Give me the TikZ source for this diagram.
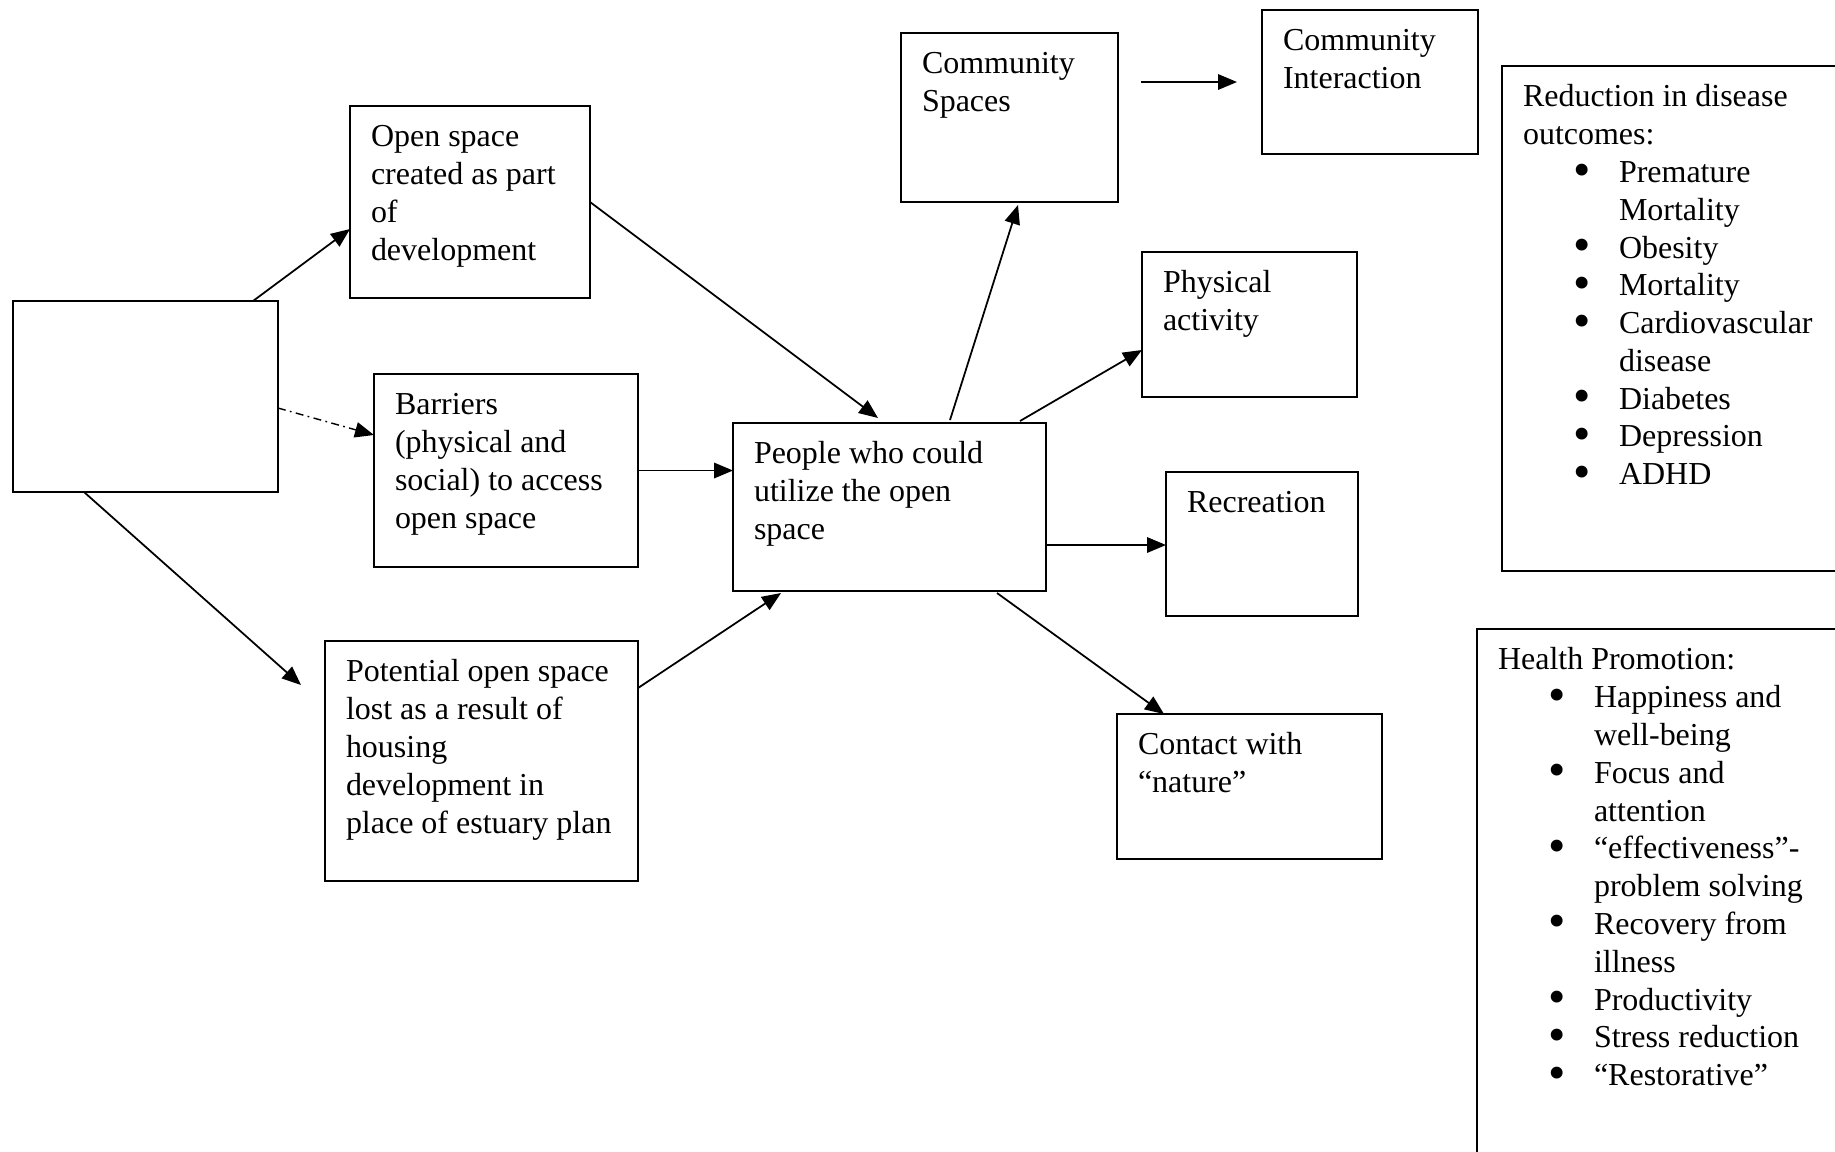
\documentclass[tikz,border=0pt]{standalone}
\usepackage{fontspec}
\usepackage{graphicx}
\setmainfont{Liberation Serif}
\usetikzlibrary{positioning,arrows.meta}
\newcommand{\boxtext}[3]{\parbox[t][#2][t]{#1}{\raggedright\strut#3}}
\newcommand{\bitem}[1]{\par\hangindent=1.92cm\hangafter=1\noindent\hspace*{1.0cm}\makebox[0.92cm][l]{\smash{\raisebox{-0.11em}{\scalebox{1.55}{\textbullet}}}}#1}
\tikzset{flowbox/.style={draw, line width=1.1pt, outer sep=0pt, inner xsep=0.42cm, inner ysep=0.29cm},
  linkarrow/.style={-{Triangle[length=0.38cm,width=0.31cm]}, line width=1pt}}

\begin{document}
\begin{tikzpicture}[font=\fontsize{18.2}{21.5}\selectfont]
\useasboundingbox (0,0) rectangle (36.7,-23.02);
\clip (0,0) rectangle (36.7,-23.02);
\node[flowbox, minimum width=5.3cm, minimum height=3.82cm, anchor=north west] (src) at (0.26,-6.02) {};
\node[flowbox, above right=0.06cm and 1.44cm of src.north east] (openspace) {\boxtext{3.96cm}{3.26cm}{Open space\\created as part\\of\\development}};
\node[flowbox, below right=1.46cm and 1.92cm of src.north east] (barriers) {\boxtext{4.44cm}{3.28cm}{Barriers\\(physical and\\social) to access\\open space}};
\node[flowbox, below right=2.98cm and 0.94cm of src.south east] (potential) {\boxtext{5.42cm}{4.22cm}{Potential open space\\lost as a result of\\housing\\development in\\place of estuary plan}};
\node[flowbox, below right=0.98cm and 1.90cm of barriers.north east] (people) {\boxtext{5.42cm}{2.78cm}{People who could\\utilize the open\\space}};
\node[flowbox, above right=4.42cm and 3.36cm of people.north west] (commspaces) {\boxtext{3.50cm}{2.80cm}{Community\\Spaces}};
\node[flowbox, above right=0.96cm and 2.88cm of commspaces.south east] (comminter) {\boxtext{3.48cm}{2.30cm}{Community\\Interaction}};
\node[flowbox, above right=0.52cm and 1.92cm of people.north east] (physical) {\boxtext{3.46cm}{2.32cm}{Physical\\activity}};
\node[flowbox, below right=0.98cm and 2.40cm of people.north east] (recreation) {\boxtext{3.00cm}{2.30cm}{Recreation}};
\node[flowbox, below right=2.46cm and 1.42cm of people.south east] (contact) {\boxtext{4.46cm}{2.32cm}{Contact with\\``nature''}};
% outcome lists, cut by the page edge
\node[flowbox, below right=1.12cm and 0.48cm of comminter.north east] (reduction) {\boxtext{6.66cm}{9.52cm}{Reduction in disease\\outcomes:
  \bitem{Premature\newline Mortality}
  \bitem{Obesity}
  \bitem{Mortality}
  \bitem{Cardiovascular\newline disease}
  \bitem{Diabetes}
  \bitem{Depression}
  \bitem{ADHD}}};
\node[flowbox, below=1.16cm of reduction.south west, anchor=north west, xshift=-0.5cm] (health) {\boxtext{7.16cm}{11cm}{Health Promotion:
  \bitem{Happiness and\newline well-being}
  \bitem{Focus and\newline attention}
  \bitem{``effectiveness''-\newline problem solving}
  \bitem{Recovery from\newline illness}
  \bitem{Productivity}
  \bitem{Stress reduction}
  \bitem{``Restorative''}}};
\draw[linkarrow] ([xshift=-0.5cm]src.north east) -- ([yshift=-0.54cm]openspace.west);
\draw[linkarrow, line width=0.8pt, dash pattern=on 4.5pt off 2.5pt on 1pt off 2.5pt] ([yshift=-0.23cm]src.east) -- ([yshift=0.71cm]barriers.west);
\draw[linkarrow] ([xshift=-1.23cm]src.south) -- ([xshift=-0.48cm,yshift=-0.88cm]potential.north west);
\draw[linkarrow] (openspace.east) -- ([xshift=-0.23cm,yshift=0.1cm]people.north);
\draw[linkarrow] (barriers.east) -- (barriers.east -| people.west);
\draw[linkarrow] ([yshift=-0.94cm]potential.north east) -- ([xshift=-2.17cm,yshift=-0.04cm]people.south);
\draw[linkarrow] ([xshift=1.21cm,yshift=0.06cm]people.north) -- ([xshift=0.17cm,yshift=-0.06cm]commspaces.south);
\draw[linkarrow] ([xshift=-0.52cm,yshift=0.04cm]people.north east) -- ([yshift=-0.51cm]physical.west);
\draw[linkarrow] ([yshift=-0.76cm]people.east) coordinate (pe) -- (pe -| recreation.west);
\draw[linkarrow] ([xshift=-0.98cm,yshift=-0.04cm]people.south east) -- ([xshift=0.94cm]contact.north west);
\coordinate[xshift=0.46cm] (csout) at (commspaces.east |- comminter.west);
\draw[linkarrow] (csout) -- ([xshift=-0.5cm]comminter.west);
\end{tikzpicture}
\end{document}
